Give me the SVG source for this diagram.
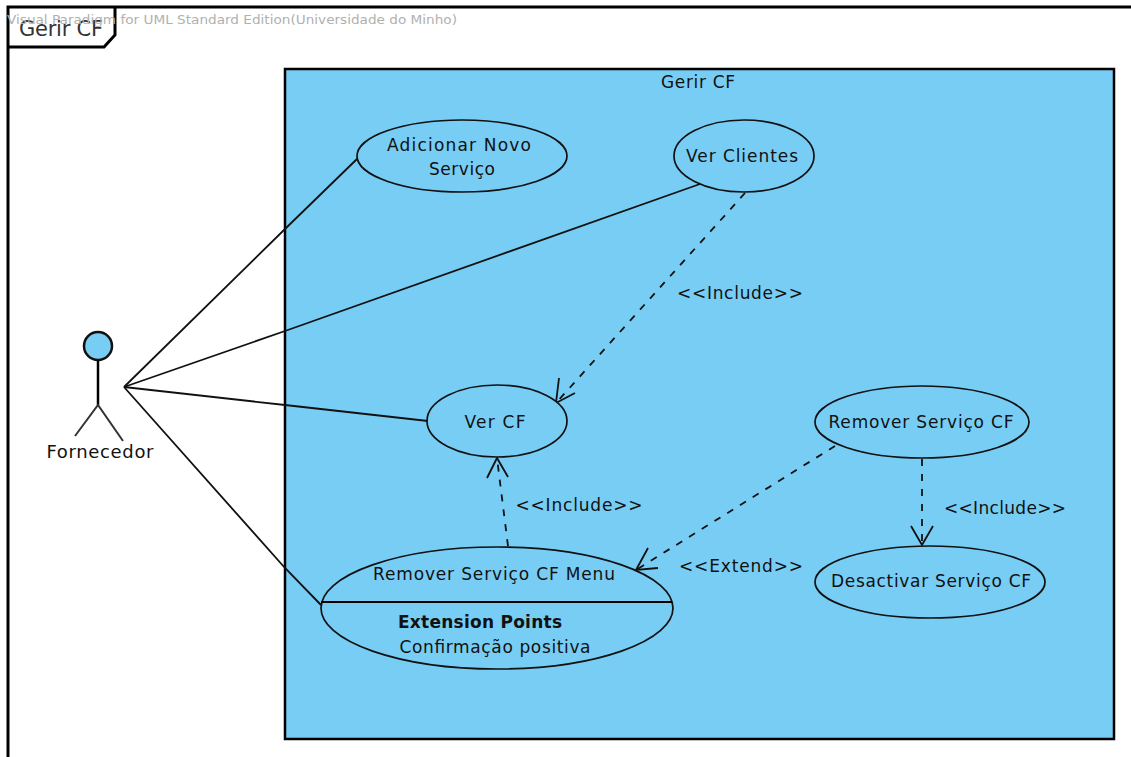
<svg xmlns="http://www.w3.org/2000/svg" width="1131" height="757" viewBox="0 0 1131 757">
<style>
text{font-family:"DejaVu Sans","Liberation Sans",sans-serif;font-size:17px;fill:#111;text-anchor:middle}
.uc{fill:#78cdf5;stroke:#111;stroke-width:1.7}
.ln{fill:none;stroke:#111;stroke-width:1.8}
.ds{fill:none;stroke:#111;stroke-width:1.8;stroke-dasharray:7 8}
.hd{fill:none;stroke:#111;stroke-width:1.8}
</style>
<rect width="1131" height="757" fill="#fff"/>
<g id="frame">
<path d="M8 757V7H1131" fill="none" stroke="#000" stroke-width="3"/>
<path d="M8 47H104L115 35V7" fill="none" stroke="#000" stroke-width="3"/>
<text x="61" y="36" style="font-size:21px;fill:#333" textLength="84">Gerir CF</text>
<text x="232" y="24" style="font-size:12.5px;fill:#b0b0b0" textLength="450" lengthAdjust="spacingAndGlyphs">Visual Paradigm for UML Standard Edition(Universidade do Minho)</text>
</g>
<g id="system">
<rect x="285" y="69" width="829" height="670" fill="#78cdf5" stroke="#000" stroke-width="2.5"/>
<text x="698" y="88" textLength="74">Gerir CF</text>
</g>
<g id="connectors">
<path class="ln" d="M124 387L285 229L358 158"/>
<path class="ln" d="M124 387L285 331L700 184"/>
<path class="ln" d="M124 387L285 405L428 421"/>
<path class="ln" d="M124 387L285 568L321 605"/>
<path class="ds" d="M745 193L556 403"/>
<path class="hd" d="M559 378L556 403L575 393"/>
<path class="ds" d="M508 546L497 458"/>
<path class="hd" d="M487 478L497 458L508 477"/>
<path class="ds" d="M835 446L636 570"/>
<path class="hd" d="M648 548L636 570L658 568"/>
<path class="ds" d="M922 459V545"/>
<path class="hd" d="M911 526L922 545L933 526"/>
</g>
<g id="actor">
<circle cx="98" cy="346" r="14" fill="#78cdf5" stroke="#111" stroke-width="2.5"/>
<path d="M98 360V405" fill="none" stroke="#000" stroke-width="2.5"/>
<path d="M75 436L98 405L123 441" fill="none" stroke="#333" stroke-width="2"/>
<text x="100" y="458" style="font-size:18px" textLength="107">Fornecedor</text>
</g>
<g id="uc-adicionar">
<ellipse class="uc" cx="462" cy="156" rx="105" ry="36"/>
<text x="459" y="151" textLength="144">Adicionar Novo</text>
<text x="462" y="175" textLength="66">Serviço</text>
</g>
<g id="uc-clientes">
<ellipse class="uc" cx="744" cy="156" rx="70" ry="36"/>
<text x="742" y="162" textLength="112">Ver Clientes</text>
</g>
<g id="uc-vercf">
<ellipse class="uc" cx="497" cy="421" rx="70" ry="36"/>
<text x="495" y="428" textLength="61">Ver CF</text>
</g>
<g id="uc-remover">
<ellipse class="uc" cx="922" cy="422" rx="107" ry="36"/>
<text x="921" y="428" textLength="185">Remover Serviço CF</text>
</g>
<g id="uc-desactivar">
<ellipse class="uc" cx="930" cy="582" rx="115" ry="36"/>
<text x="931" y="587" textLength="200">Desactivar Serviço CF</text>
</g>
<g id="uc-menu">
<ellipse class="uc" cx="497" cy="608" rx="176" ry="61"/>
<path d="M321 602H672" fill="none" stroke="#000" stroke-width="2"/>
<text x="494" y="580" textLength="242">Remover Serviço CF Menu</text>
<text x="480" y="628" style="font-weight:bold" textLength="164">Extension Points</text>
<text x="495" y="653" textLength="191">Confirmação positiva</text>
</g>
<g id="labels">
<text x="740" y="299" textLength="126">&lt;&lt;Include&gt;&gt;</text>
<text x="579" y="511" textLength="127">&lt;&lt;Include&gt;&gt;</text>
<text x="1005" y="514" textLength="122">&lt;&lt;Include&gt;&gt;</text>
<text x="741" y="572" textLength="124">&lt;&lt;Extend&gt;&gt;</text>
</g>
</svg>
